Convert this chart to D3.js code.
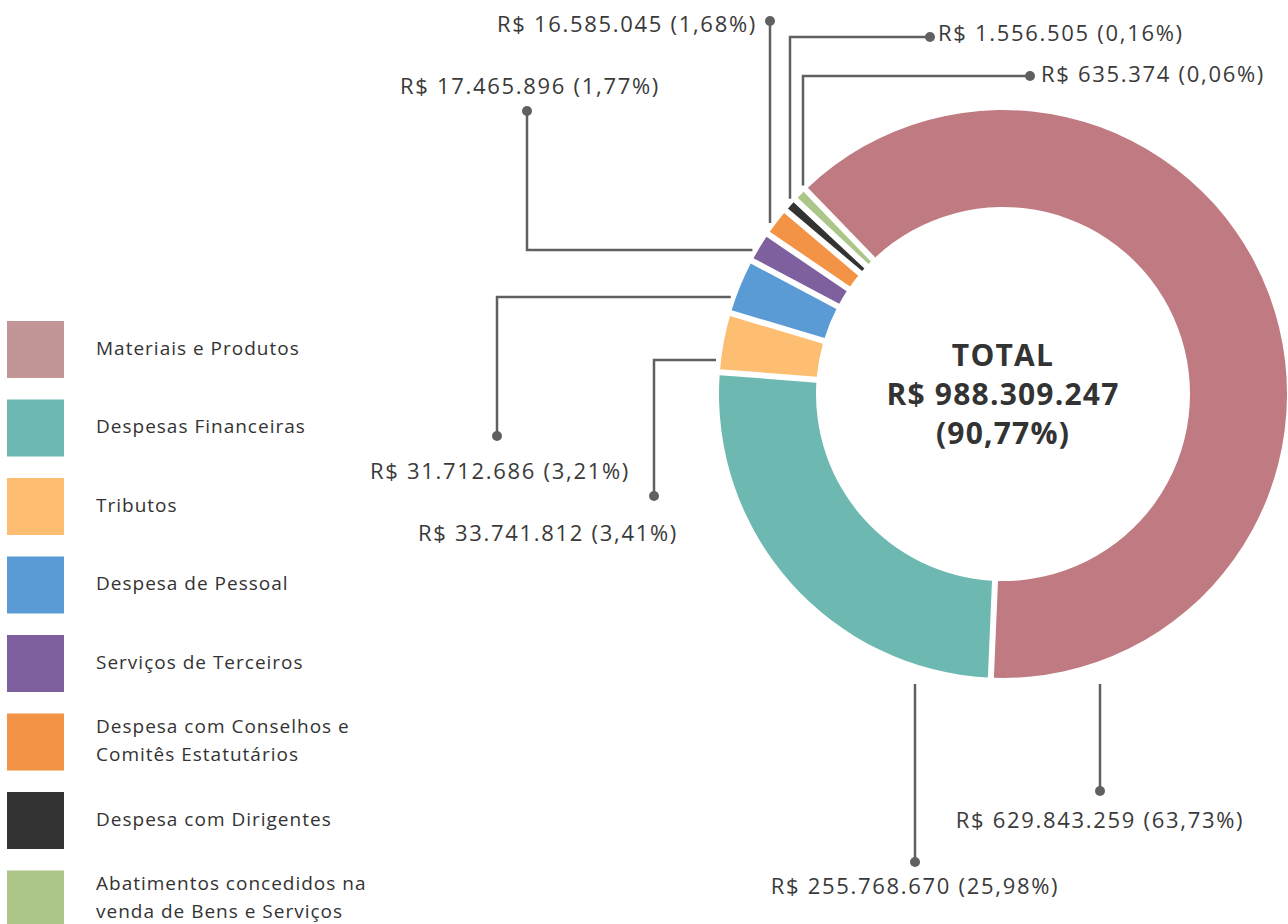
<!DOCTYPE html>
<html lang="pt-BR">
<head>
    <meta charset="UTF-8">
    <title>Despesas</title>
    <script src="https://d3js.org/d3.v7.min.js"></script>
    <style>
        body { margin: 0; background: #fff; }
        svg { display: block; font-family: "Open Sans", Lato, sans-serif; }
    </style>
</head>
<body>
<script>
// dados
var categories = [
    "Materiais e Produtos",
    "Despesas Financeiras",
    "Tributos",
    "Despesa de Pessoal",
    "Serviços de Terceiros",
    "Despesa com Conselhos e|Comitês Estatutários",
    "Despesa com Dirigentes",
    "Abatimentos concedidos na|venda de Bens e Serviços"
];
var values = [629843259, 255768670, 33741812, 31712686, 17465896, 16585045, 1556505, 635374];
var percents = ["63,73%", "25,98%", "3,41%", "3,21%", "1,77%", "1,68%", "0,16%", "0,06%"];
var colors = ["#bf7b81", "#6db9b1", "#febe71", "#5b9bd5", "#7e609e", "#f39345", "#333333", "#acc68a"];
var legendColors = ["#c29697", "#6db9b1", "#febe71", "#5b9bd5", "#7e609e", "#f39345", "#333333", "#acc68a"];
var totalLines = ["TOTAL", "R$ 988.309.247", "(90,77%)"];

var width = 1288, height = 924;
var cx = 1003, cy = 394, rOuter = 284, rInner = 187;

var fmt = function (v) { return "R$ " + d3.format(",")(v).replace(/,/g, "."); };

var svg = d3.select("body").append("svg")
    .attr("width", width)
    .attr("height", height);

// fatias muito pequenas ganham um angulo minimo para ficarem visiveis
var total = d3.sum(values);
var minShare = 0.0082;
var shown = values.map(function (v) { return Math.max(v / total, minShare); });

var start = -44 * Math.PI / 180;
var pie = d3.pie()
    .sort(null)
    .value(function (d, i) { return shown[i]; })
    .startAngle(start)
    .endAngle(start + 2 * Math.PI);

var arc = d3.arc()
    .innerRadius(rInner)
    .outerRadius(rOuter)
    .padAngle(0.02)
    .padRadius(300);

var arcs = pie(values);

var g = svg.append("g").attr("transform", "translate(" + cx + "," + cy + ")");
g.selectAll("path")
    .data(arcs)
    .enter()
    .append("path")
    .attr("d", arc)
    .style("fill", function (d, i) { return colors[i]; });

// texto central
g.selectAll("text.total")
    .data(totalLines)
    .enter()
    .append("text")
    .attr("class", "total")
    .attr("x", 0)
    .attr("y", function (d, i) { return (i - 1) * 39; })
    .attr("dy", "0.35em")
    .attr("text-anchor", "middle")
    .style("font-size", "30px")
    .style("font-weight", "bold")
    .style("letter-spacing", "1.2px")
    .style("fill", "#333")
    .text(function (d) { return d; });

// rotulos com linhas de chamada
// dir: "down" (linha sobe ate o anel), "up" (desce ate o anel), "left" (cotovelo horizontal)
var callouts = [
    { dot: [1100, 791], dir: "down", tx: 1100, ty: 820, anchor: "middle" },
    { dot: [915, 862], dir: "down", tx: 915, ty: 886, anchor: "middle" },
    { dot: [654, 496], dir: "left", ey: 360, tx: 548, ty: 533, anchor: "middle" },
    { dot: [497, 436], dir: "left", ey: 297, tx: 500, ty: 471, anchor: "middle" },
    { dot: [527, 111], dir: "left", ey: 250, tx: 530, ty: 86, anchor: "middle" },
    { dot: [770, 21], dir: "up", tx: 757, ty: 24, anchor: "end" },
    { dot: [930, 37], dir: "up", ex: 790, tx: 938, ty: 33, anchor: "start" },
    { dot: [1030, 76], dir: "up", ex: 803, tx: 1041, ty: 74, anchor: "start" }
];

var rLead = rOuter + 5;
function leaderPoints(c) {
    var p = [c.dot];
    if (c.dir === "down") {
        p.push([c.dot[0], cy + rOuter + 6]);
    } else if (c.dir === "left") {
        var y = c.ey;
        p.push([c.dot[0], y]);
        p.push([cx - Math.sqrt(rLead * rLead - (y - cy) * (y - cy)), y]);
    } else {
        var x = c.ex === undefined ? c.dot[0] : c.ex;
        if (x !== c.dot[0]) p.push([x, c.dot[1]]);
        p.push([x, cy - Math.sqrt(rLead * rLead - (x - cx) * (x - cx))]);
    }
    return p;
}

var lab = svg.append("g");
lab.selectAll("path")
    .data(callouts)
    .enter()
    .append("path")
    .attr("d", function (d) { return d3.line()(leaderPoints(d)); })
    .style("fill", "none")
    .style("stroke", "#606060")
    .style("stroke-width", 2.5);

lab.selectAll("circle")
    .data(callouts)
    .enter()
    .append("circle")
    .attr("cx", function (d) { return d.dot[0]; })
    .attr("cy", function (d) { return d.dot[1]; })
    .attr("r", 5)
    .style("fill", "#606060");

lab.selectAll("text")
    .data(callouts)
    .enter()
    .append("text")
    .attr("x", function (d) { return d.tx; })
    .attr("y", function (d) { return d.ty; })
    .attr("dy", "0.35em")
    .attr("text-anchor", function (d) { return d.anchor; })
    .style("font-size", "22px")
    .style("letter-spacing", "1.7px")
    .style("fill", "#3a3a3a")
    .text(function (d, i) { return fmt(values[i]) + " (" + percents[i] + ")"; });

// legenda
var leg = svg.append("g");
var rows = leg.selectAll("g")
    .data(categories)
    .enter()
    .append("g")
    .attr("transform", function (d, i) { return "translate(7," + (321 + i * 78.5) + ")"; });

rows.append("rect")
    .attr("width", 57)
    .attr("height", 57)
    .style("fill", function (d, i) { return legendColors[i]; });

rows.append("text")
    .attr("x", 89)
    .style("font-size", "19px")
    .style("letter-spacing", "1px")
    .style("fill", "#333")
    .each(function (d) {
        var lines = d.split("|");
        var t = d3.select(this);
        lines.forEach(function (s, j) {
            t.append("tspan")
                .attr("x", 89)
                .attr("y", 27 + (j - (lines.length - 1) / 2) * 28)
                .attr("dy", "0.35em")
                .text(s);
        });
    });
</script>
</body>
</html>
